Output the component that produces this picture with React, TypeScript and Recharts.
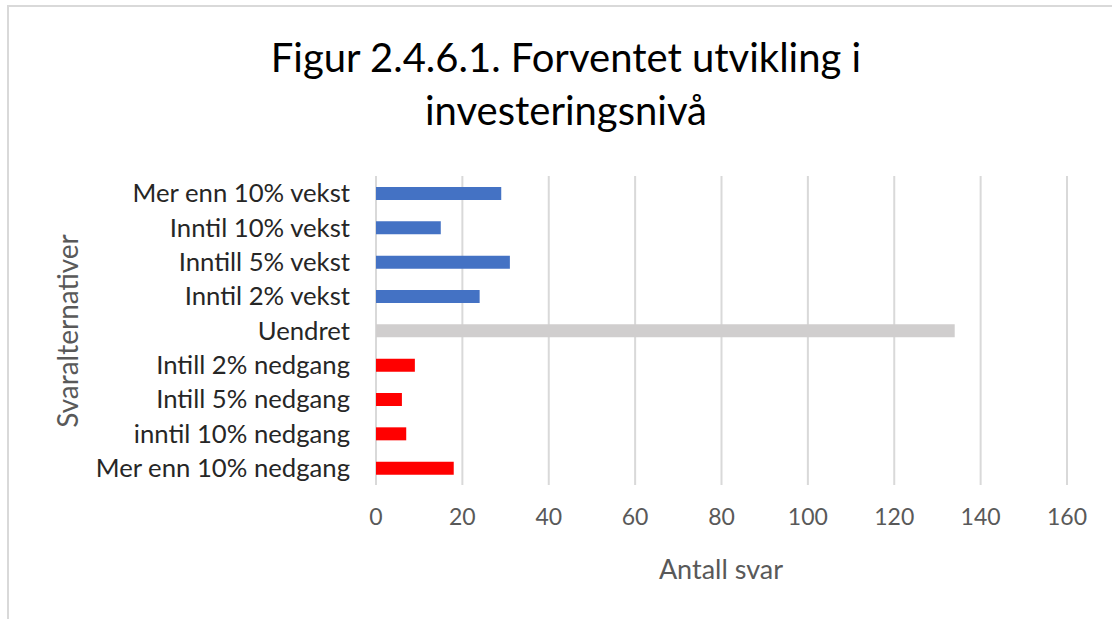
import React from 'react';
import { BarChart, Bar, XAxis, YAxis, CartesianGrid, Cell } from 'recharts';

// Svaralternativer, top to bottom as in the figure
const categories = [
  'Mer enn 10% vekst',
  'Inntil 10% vekst',
  'Inntill 5% vekst',
  'Inntil 2% vekst',
  'Uendret',
  'Intill 2% nedgang',
  'Intill 5% nedgang',
  'inntil 10% nedgang',
  'Mer enn 10% nedgang',
];
const antallSvar = [29, 15, 31, 24, 134, 9, 6, 7, 18];
const barColors = ['#4472C4', '#4472C4', '#4472C4', '#4472C4', '#D0CECE', '#FF0000', '#FF0000', '#FF0000', '#FF0000'];
const xTicks = [0, 20, 40, 60, 80, 100, 120, 140, 160];

const FONT = 'Lato, "Open Sans", sans-serif';

const data = categories.map((name, i) => ({ name, value: antallSvar[i] }));

export default function App() {
  return (
    <div style={{ position: 'absolute', left: 0, top: 0, width: 1112, height: 619, background: '#fff', overflow: 'hidden', fontFamily: FONT }}>
      {/* chart frame, only top/left edges fall inside the crop */}
      <div
        style={{
          position: 'absolute',
          left: 7,
          top: 5,
          width: 1200,
          height: 700,
          borderTop: '2px solid #d9d9d9',
          borderLeft: '2px solid #d9d9d9',
        }}
      />
      <div
        style={{
          position: 'absolute',
          left: 0,
          width: 1132,
          top: 31,
          textAlign: 'center',
          fontSize: 40,
          lineHeight: '53px',
          color: '#000',
        }}
      >
        Figur 2.4.6.1. Forventet utvikling i
        <br />
        investeringsnivå
      </div>
      <div
        style={{
          position: 'absolute',
          left: 67,
          top: 331,
          transform: 'translate(-50%, -50%) rotate(-90deg)',
          fontSize: 28,
          color: '#595959',
          whiteSpace: 'nowrap',
        }}
      >
        Svaralternativer
      </div>
      <div
        style={{
          position: 'absolute',
          left: 721,
          top: 568,
          transform: 'translate(-50%, -50%)',
          fontSize: 27,
          color: '#595959',
          whiteSpace: 'nowrap',
        }}
      >
        Antall svar
      </div>
      <div style={{ position: 'absolute', left: 0, top: 0 }}>
        <BarChart
          width={1112}
          height={619}
          data={data}
          layout="vertical"
          margin={{ top: 176, right: 45, bottom: 0, left: 0 }}
          barCategoryGap="31%"
        >
          <CartesianGrid horizontal={false} stroke="#d9d9d9" strokeWidth={2} />
          <XAxis
            type="number"
            domain={[0, 160]}
            ticks={xTicks}
            interval={0}
            axisLine={false}
            tickLine={false}
            tickSize={0}
            tickMargin={24}
            height={134}
            tick={{ fill: '#595959', fontSize: 23, fontFamily: FONT }}
          />
          <YAxis
            type="category"
            dataKey="name"
            width={376}
            axisLine={false}
            tickLine={false}
            tickSize={0}
            tickMargin={26}
            interval={0}
            tick={{ fill: '#262626', fontSize: 25.7, fontFamily: FONT }}
          />
          <Bar dataKey="value" barSize={13} isAnimationActive={false}>
            {data.map((d, i) => (
              <Cell key={`cell-${d.name}`} fill={barColors[i]} />
            ))}
          </Bar>
        </BarChart>
      </div>
    </div>
  );
}
